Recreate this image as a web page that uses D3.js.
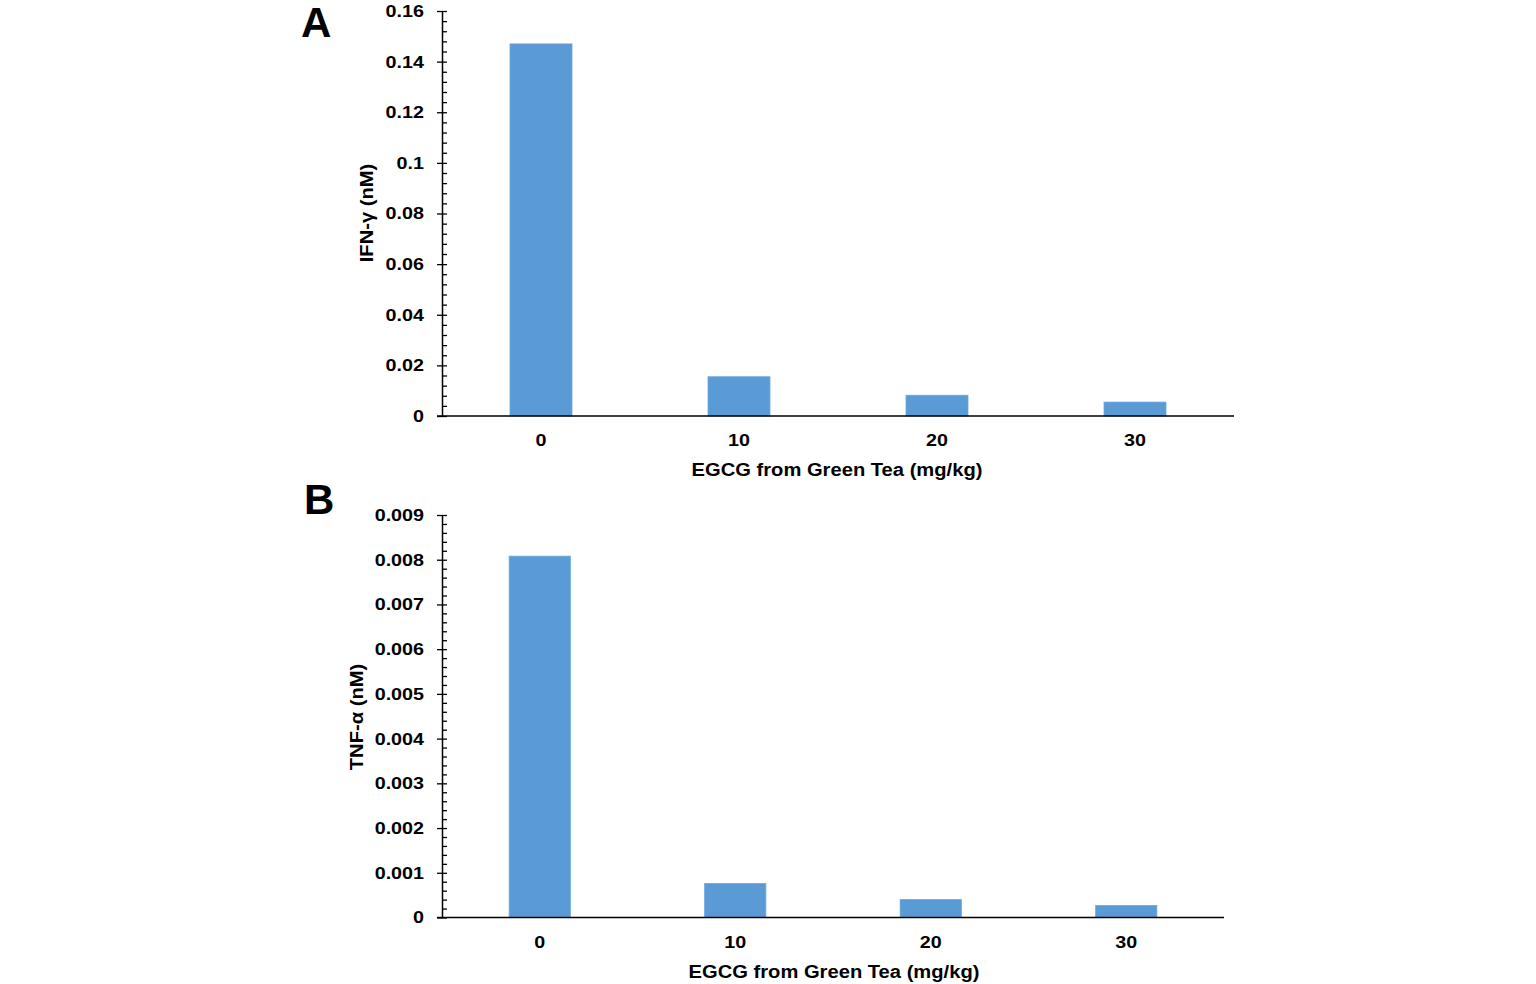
<!DOCTYPE html>
<html>
<head>
<meta charset="utf-8">
<script src="https://cdn.jsdelivr.net/npm/d3@7"></script>
<style>
  html, body { margin: 0; padding: 0; background: #fff; }
  svg { display: block; }
  text { font-family: "Liberation Sans", Arial, sans-serif; font-weight: bold; fill: #000; }
</style>
</head>
<body>
<svg id="chart" width="1536" height="984"></svg>
<script>
// ---- data ----
const categories = ["0", "10", "20", "30"];
const ifnValues = [0.147, 0.0155, 0.0082, 0.0055];
const tnfValues = [0.00808, 0.00076, 0.0004, 0.00027];
const ifnTicks = [0, 0.02, 0.04, 0.06, 0.08, 0.1, 0.12, 0.14, 0.16];
const ifnTickLabels = ["0", "0.02", "0.04", "0.06", "0.08", "0.1", "0.12", "0.14", "0.16"];
const tnfTicks = [0, 0.001, 0.002, 0.003, 0.004, 0.005, 0.006, 0.007, 0.008, 0.009];
const tnfTickLabels = ["0", "0.001", "0.002", "0.003", "0.004", "0.005", "0.006", "0.007", "0.008", "0.009"];
const xTitle = "EGCG from Green Tea (mg/kg)";

const svg = d3.select("#chart");
const SX = 1.16; // horizontal stretch of tick-label text
const SXT = 1.09; // horizontal stretch of titles

function drawPanel(opt) {
  const g = svg.append("g");
  const x = d3.scaleBand().domain(categories).range([opt.x0, opt.x1])
    .paddingInner(0.687).paddingOuter(0.687 / 2);
  const y = d3.scaleLinear().domain([0, opt.max]).range([opt.yBottom, opt.yTop]);

  // bars
  g.selectAll("rect.bar").data(opt.values).enter().append("rect")
    .attr("class", "bar")
    .attr("x", (d, i) => x(categories[i]))
    .attr("width", x.bandwidth())
    .attr("y", d => y(d))
    .attr("height", d => y(0) - y(d))
    .attr("fill", "#5B9BD5")
    .attr("stroke", "#6aa6dc")
    .attr("stroke-width", 0.8);

  // minor + major ticks on the right side of the axis
  const minorVals = d3.range(0, opt.ticks.length - 1).flatMap(i => {
    const a = opt.ticks[i], b = opt.ticks[i + 1];
    return d3.range(0, 5).map(k => a + (b - a) * k / 5);
  }).concat([opt.max]);
  const minor = d3.axisRight(y).tickValues(minorVals).tickSize(5).tickFormat("").tickSizeOuter(0);
  const gm = g.append("g").attr("transform", `translate(${opt.x0},0)`).call(minor);
  gm.select(".domain").remove();
  gm.selectAll("line").attr("stroke", "#000").attr("stroke-width", 1.3);

  // major axis with labels
  const pad = 18;
  const yAxis = d3.axisLeft(y).tickValues(opt.ticks)
    .tickFormat((d, i) => opt.tickLabels[i])
    .tickSizeInner(5).tickSizeOuter(0).tickPadding(13);
  const ga = g.append("g").attr("transform", `translate(${opt.x0},0)`).call(yAxis);
  ga.select(".domain").attr("stroke", "#000").attr("stroke-width", 1.5);
  ga.selectAll("line").attr("stroke", "#000").attr("stroke-width", 1.3);
  ga.selectAll("text").style("font-size", "17px").style("font-family", "'Liberation Sans', Arial, sans-serif")
    .style("font-weight", "bold").attr("fill", "#000")
    .attr("x", 0).attr("transform", `translate(${-pad},0) scale(${SX},1)`);

  // x axis
  const xAxis = d3.axisBottom(x).tickSize(0).tickPadding(18);
  const gx = g.append("g").attr("transform", `translate(0,${opt.yBottom})`).call(xAxis);
  gx.select(".domain").remove();
  gx.append("line").attr("x1", opt.x0 - 5).attr("x2", opt.x1).attr("y1", 0).attr("y2", 0)
    .attr("stroke", "#000").attr("stroke-width", 1.5);
  gx.selectAll(".tick text").style("font-size", "17px").style("font-family", "'Liberation Sans', Arial, sans-serif")
    .style("font-weight", "bold").attr("fill", "#000")
    .attr("transform", `scale(${SX},1)`);

  // titles
  const tx = (opt.x0 + opt.x1) / 2 - 5 + opt.titleShift;
  g.append("text").attr("transform", `translate(${tx},${opt.yBottom + 60}) scale(${SXT},1)`)
    .attr("text-anchor", "middle").style("font-size", "18.5px").text(xTitle);
  g.append("text").attr("transform", `translate(${opt.yTitleX},${opt.yTitleY}) rotate(-90) scale(${SXT},1)`)
    .attr("text-anchor", "middle").attr("dy", "0.35em").style("font-size", "18.5px").text(opt.yTitle);
  g.append("text").attr("x", opt.letterX).attr("y", opt.letterY)
    .style("font-size", "42px").text(opt.letter);
}

drawPanel({
  values: ifnValues, ticks: ifnTicks, tickLabels: ifnTickLabels, max: 0.16,
  x0: 442, x1: 1234, yBottom: 416, yTop: 11, titleShift: 4,
  yTitle: "IFN-γ (nM)", yTitleX: 367, yTitleY: 213,
  letter: "A", letterX: 301, letterY: 37
});
drawPanel({
  values: tnfValues, ticks: tnfTicks, tickLabels: tnfTickLabels, max: 0.009,
  x0: 442, x1: 1224, yBottom: 917.5, yTop: 515, titleShift: 6,
  yTitle: "TNF-α (nM)", yTitleX: 357, yTitleY: 717,
  letter: "B", letterX: 304, letterY: 514
});
</script>
</body>
</html>
